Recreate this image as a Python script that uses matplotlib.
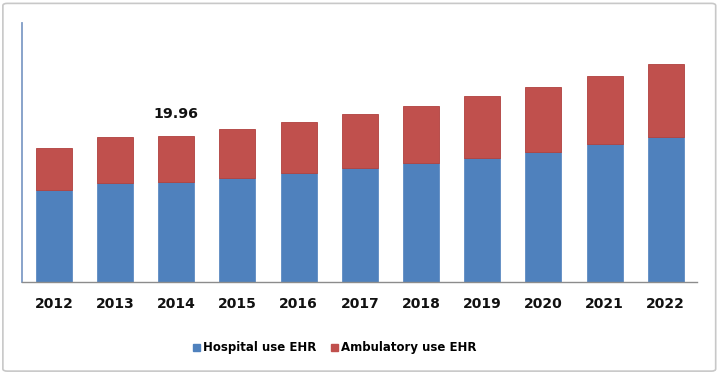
import matplotlib
matplotlib.use("Agg")
import matplotlib.pyplot as plt
from matplotlib.patches import FancyBboxPatch, Patch
import numpy as np

years = ["2012", "2013", "2014", "2015", "2016", "2017", "2018", "2019", "2020", "2021", "2022"]
hospital = [12.55, 13.47, 13.60, 14.15, 14.83, 15.51, 16.19, 16.96, 17.78, 18.83, 19.82]
ambulatory = [5.69, 6.35, 6.36, 6.68, 7.04, 7.41, 7.82, 8.42, 8.78, 9.31, 9.88]
series_names = ["Hospital use EHR", "Ambulatory use EHR"]
annot_year = "2014"
annot_text = "19.96"

blue = "#4F81BD"
red = "#C0504D"

fig = plt.figure(figsize=(7.2, 3.76), dpi=100)
fig.patch.set_facecolor("white")

# outer border
fig.patches.append(FancyBboxPatch((0.004, 0.013), 0.990, 0.978,
                                  boxstyle="round,pad=0,rounding_size=0.006",
                                  transform=fig.transFigure, fill=False,
                                  edgecolor="#C8C8C8", linewidth=1.2))

ax = fig.add_axes([22/720, (376-282)/376, (697-22)/720, (282-23)/376])
x = np.arange(len(years))
w = 0.59
ax.bar(x, hospital, w, color=blue, edgecolor=blue, linewidth=0.5)
ax.bar(x, ambulatory, w, bottom=hospital, color=red, edgecolor="#B0403D", linewidth=0.6)

ax.set_xlim(-0.52, len(years) - 1 + 0.51)
ax.set_ylim(0, 35.3)
ax.set_xticks(x)
ax.set_xticklabels(years, fontsize=10, fontweight="bold", color="#111111")
ax.tick_params(axis="x", length=0, pad=11)
ax.set_yticks([])
for s in ["top", "right"]:
    ax.spines[s].set_visible(False)
ax.spines["left"].set_color("#7F9CC6")
ax.spines["left"].set_linewidth(1.3)
ax.spines["bottom"].set_color("#8C8C8C")
ax.spines["bottom"].set_linewidth(1.0)

i = years.index(annot_year)
ax.annotate(annot_text, (x[i], hospital[i] + ambulatory[i]), xytext=(0, 10.5),
            textcoords="offset points", ha="center", va="bottom",
            fontsize=10.2, fontweight="bold", color="#111111")

handles = [Patch(facecolor=blue, edgecolor=blue), Patch(facecolor=red, edgecolor=red)]
fig.legend(handles, series_names, loc="center", bbox_to_anchor=(335/720, (376-348)/376),
           ncol=2, frameon=False, handlelength=0.55, handleheight=0.55,
           handletextpad=0.3, columnspacing=1.2,
           prop={"weight": "bold", "size": 8.5, "family": "DejaVu Sans"})

fig.savefig("out.png", dpi=100, facecolor="white")
